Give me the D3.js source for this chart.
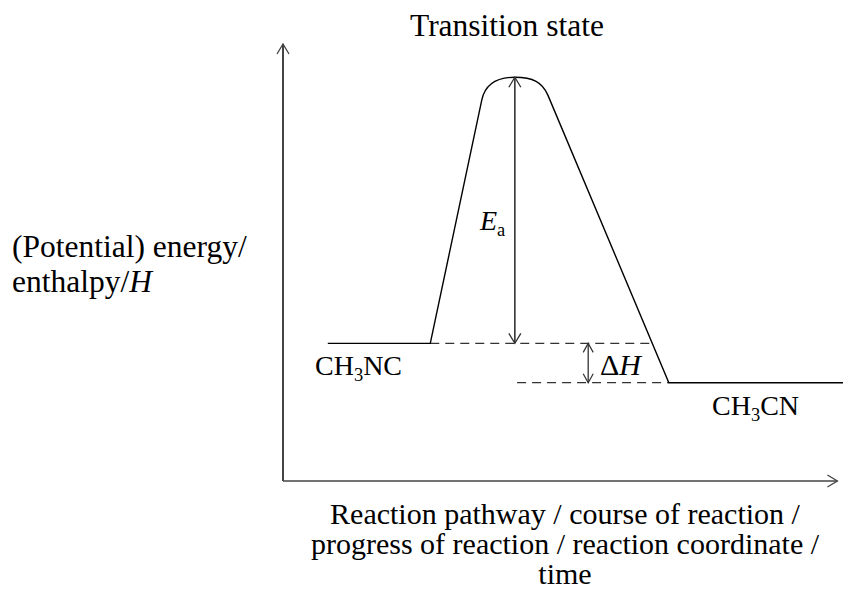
<!DOCTYPE html>
<html>
<head>
<meta charset="utf-8">
<script src="https://cdn.jsdelivr.net/npm/d3@7"></script>
<style>
  body { margin: 0; background: #fff; }
  text { font-family: "Liberation Serif", "Times New Roman", serif; fill: #000; }
</style>
</head>
<body>
<div id="chart"></div>
<script>
// Energy profile for CH3NC -> CH3CN isomerisation

var width = 862,
	height = 592;

// reaction coordinate (0-100) and energy (0-100), arbitrary units
var pathX      = [8, 26.3, 35.5, 41.4, 47.3, 68.9, 100];
var pathEnergy = [31.5, 31.5, 87.2, 92.4, 88.3, 22.5, 22.5];
var reactantEnergy = 31.5;
var peakEnergy     = 92.4;
var productEnergy  = 22.5;
var peakX  = 41.4;
var deltaX = 54.5;
// dashed guide lines: [x start, x end, energy]
var guideLines = [[26.3, 66.1, 31.5], [41.8, 68.9, 22.5]];

var titleText   = "Transition state";
var yLabelLines = ["(Potential) energy/", "enthalpy/"];
var xLabelLines = ["Reaction pathway / course of reaction /",
                   "progress of reaction / reaction coordinate /",
                   "time"];

var FONT = 28;

var x = d3.scaleLinear().domain([0, 100]).range([283, 843]);
var y = d3.scaleLinear().domain([0, 100]).range([481, 44]);

var svg = d3.select("#chart").append("svg")
	.attr("width", width)
	.attr("height", height);

// open chevron arrowhead at (tx,ty) pointing along direction (dx,dy)
function chevron(g, tx, ty, dx, dy, len, half, color, sw) {
	var n = Math.sqrt(dx * dx + dy * dy);
	dx /= n; dy /= n;
	var bx = tx - dx * len, by = ty - dy * len;
	var px = -dy * half, py = dx * half;
	g.append("path")
		.attr("d", "M" + (bx + px) + "," + (by + py) + "L" + tx + "," + ty + "L" + (bx - px) + "," + (by - py))
		.attr("fill", "none")
		.attr("stroke", color)
		.attr("stroke-width", sw);
}

// axes
var axisColor = "#444";
svg.append("line")
	.attr("x1", x(0)).attr("y1", y(0)).attr("x2", x(0)).attr("y2", y(100))
	.attr("stroke", axisColor).attr("stroke-width", 2);
chevron(svg, x(0), y(100), 0, -1, 10, 6, axisColor, 1.3);
svg.append("line")
	.attr("x1", x(0)).attr("y1", y(0)).attr("x2", x(99)).attr("y2", y(0))
	.attr("stroke", axisColor).attr("stroke-width", 1.5);
chevron(svg, x(99), y(0), 1, 0, 10, 6, axisColor, 1.3);

// dashed guides
svg.selectAll("line.guide")
	.data(guideLines)
	.enter().append("line")
	.attr("class", "guide")
	.attr("x1", function(d) { return x(d[0]); })
	.attr("x2", function(d) { return x(d[1]); })
	.attr("y1", function(d) { return y(d[2]); })
	.attr("y2", function(d) { return y(d[2]); })
	.attr("stroke", "#333")
	.attr("stroke-width", 1.3)
	.attr("stroke-dasharray", "9,6");

// energy profile: straight segments with a rounded cap over the transition state
var p = d3.path();
p.moveTo(x(pathX[0]), y(pathEnergy[0]));
p.lineTo(x(pathX[1]), y(pathEnergy[1]));
p.lineTo(x(pathX[2]), y(pathEnergy[2]));
var lx = x(pathX[2]), ly = y(pathEnergy[2]);
var tx = x(pathX[3]), ty = y(pathEnergy[3]);
var rx = x(pathX[4]), ry = y(pathEnergy[4]);
// tangent directions of the two slopes
var ldx = lx - x(pathX[1]), ldy = ly - y(pathEnergy[1]);
var ln = Math.sqrt(ldx * ldx + ldy * ldy);
var rdx = rx - x(pathX[5]), rdy = ry - y(pathEnergy[5]);
var rn = Math.sqrt(rdx * rdx + rdy * rdy);
p.bezierCurveTo(lx + ldx / ln * 16, ly + ldy / ln * 16, tx - 18, ty, tx, ty);
p.bezierCurveTo(tx + 18, ty, rx + rdx / rn * 14, ry + rdy / rn * 14, rx, ry);
p.lineTo(x(pathX[5]), y(pathEnergy[5]));
p.lineTo(x(pathX[6]), y(pathEnergy[6]));
svg.append("path")
	.attr("d", p.toString())
	.attr("fill", "none")
	.attr("stroke", "#000")
	.attr("stroke-width", 1.4);

// Ea arrow
svg.append("line")
	.attr("x1", x(peakX)).attr("x2", x(peakX))
	.attr("y1", y(peakEnergy)).attr("y2", y(reactantEnergy))
	.attr("stroke", "#333").attr("stroke-width", 1.6);
chevron(svg, x(peakX), y(peakEnergy), 0, -1, 10, 6, "#333", 1.3);
chevron(svg, x(peakX), y(reactantEnergy), 0, 1, 10, 6, "#333", 1.3);

// delta H arrow
svg.append("line")
	.attr("x1", x(deltaX)).attr("x2", x(deltaX))
	.attr("y1", y(reactantEnergy)).attr("y2", y(productEnergy))
	.attr("stroke", "#333").attr("stroke-width", 1.3);
chevron(svg, x(deltaX), y(reactantEnergy), 0, -1, 9, 5, "#333", 1.2);
chevron(svg, x(deltaX), y(productEnergy), 0, 1, 9, 5, "#333", 1.2);

// labels
svg.append("text")
	.attr("x", 410).attr("y", 36)
	.style("font-size", "31.5px")
	.text(titleText);

var ea = svg.append("text")
	.attr("x", 480).attr("y", 230)
	.style("font-size", FONT + "px");
ea.append("tspan").style("font-style", "italic").text("E");
ea.append("tspan").style("font-size", (FONT * 0.66) + "px").attr("dy", 6).text("a");

function formula(tx, ty, parts) {
	var t = svg.append("text")
		.attr("x", tx).attr("y", ty)
		.style("font-size", FONT + "px");
	parts.forEach(function(part) {
		t.append("tspan")
			.style("font-size", part.sub ? (FONT * 0.66) + "px" : null)
			.attr("dy", part.sub ? 6 : (part.after ? -6 : 0))
			.text(part.s);
	});
}
formula(315, 375, [{s: "CH"}, {s: "3", sub: true}, {s: "NC", after: true}]);
formula(712, 415, [{s: "CH"}, {s: "3", sub: true}, {s: "CN", after: true}]);

var dh = svg.append("text")
	.attr("x", 600).attr("y", 375)
	.style("font-size", "30px");
dh.append("tspan").text("\u0394");
dh.append("tspan").style("font-style", "italic").text("H");

var yl = svg.selectAll("text.ylab")
	.data(yLabelLines)
	.enter().append("text")
	.attr("class", "ylab")
	.attr("x", 12)
	.attr("y", function(d, i) { return 257 + i * 35; })
	.style("font-size", "31.5px")
	.text(function(d) { return d; });
yl.filter(function(d, i) { return i === 1; })
	.append("tspan").style("font-style", "italic").text("H");

svg.selectAll("text.xlab")
	.data(xLabelLines)
	.enter().append("text")
	.attr("class", "xlab")
	.attr("x", 565)
	.attr("y", function(d, i) { return 524 + i * 30; })
	.attr("text-anchor", "middle")
	.style("font-size", "30px")
	.text(function(d) { return d; });
</script>
</body>
</html>
